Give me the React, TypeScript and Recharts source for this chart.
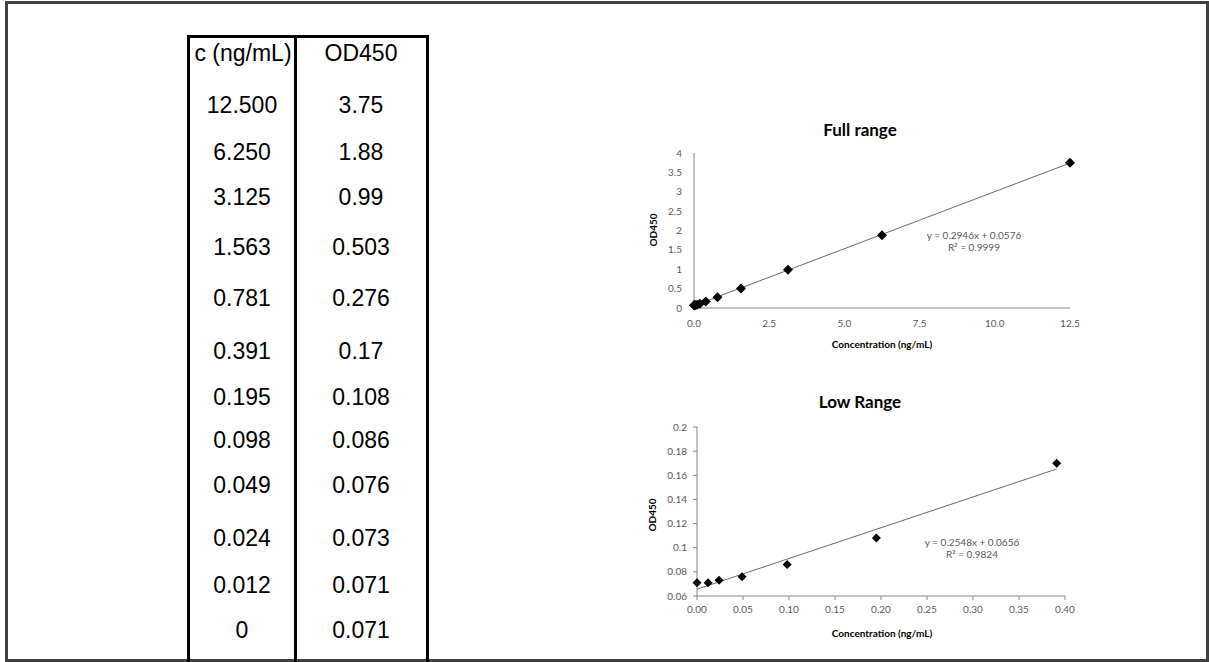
import React from "react";
import { ScatterChart, Scatter, XAxis, YAxis, ReferenceLine } from "recharts";

// table columns, as printed
const concLabels = ["12.500", "6.250", "3.125", "1.563", "0.781", "0.391", "0.195", "0.098", "0.049", "0.024", "0.012", "0"];
const odLabels = ["3.75", "1.88", "0.99", "0.503", "0.276", "0.17", "0.108", "0.086", "0.076", "0.073", "0.071", "0.071"];

// trendlines as reported on the charts
const fullSlope = 0.2946;
const fullIntercept = 0.0576;
const lowSlope = 0.2548;
const lowIntercept = 0.0656;

const fullXTicks = [0, 2.5, 5, 7.5, 10, 12.5];
const fullYTicks = [0, 0.5, 1, 1.5, 2, 2.5, 3, 3.5, 4];
const lowXTicks = [0, 0.05, 0.1, 0.15, 0.2, 0.25, 0.3, 0.35, 0.4];
const lowYTicks = [0.06, 0.08, 0.1, 0.12, 0.14, 0.16, 0.18, 0.2];
const lowMaxConc = 0.391;

const points = concLabels.map((c, i) => ({ x: Number(c), y: Number(odLabels[i]) }));
const lowPoints = points.filter((p) => p.x <= lowMaxConc);

// vertical centres of the table rows (header first)
const rowCentres = [53, 105, 152, 197, 247, 298, 351, 397, 440, 485, 538, 585, 630];

const TICK = { fontSize: 10, fill: "#595959", fontFamily: "Lato" };
const AXIS = { stroke: "#868686" };

const diamond = (r: number) => (props: any) => {
  const { cx, cy } = props;
  return <polygon points={`${cx},${cy - r} ${cx + r},${cy} ${cx},${cy + r} ${cx - r},${cy}`} fill="#000" />;
};

function Txt({ x, y, children, style }: { x: number; y: number; children: React.ReactNode; style?: React.CSSProperties }) {
  return (
    <div style={{ position: "absolute", left: x, top: y, transform: "translate(-50%, -50%)", whiteSpace: "nowrap", lineHeight: 1, ...style }}>
      {children}
    </div>
  );
}

const tableFont: React.CSSProperties = { fontFamily: "'Liberation Sans', Arial, sans-serif", fontSize: 23, color: "#000" };
const titleFont: React.CSSProperties = { fontFamily: "Lato", fontWeight: 700, fontSize: 17, color: "#000" };
const axisTitleFont: React.CSSProperties = { fontFamily: "Lato", fontWeight: 700, fontSize: 10, color: "#000" };
const eqFont: React.CSSProperties = { fontFamily: "Lato", fontSize: 10, color: "#595959", textAlign: "center", lineHeight: "12px" };

export default function App() {
  const vline = (x: number) => (
    <div style={{ position: "absolute", left: x, top: 35, width: 3, height: 627, background: "#000" }} />
  );
  return (
    <div style={{ position: "absolute", left: 0, top: 0, width: 1209, height: 662, background: "#fff", overflow: "hidden" }}>
      <div style={{ position: "absolute", left: 5, top: 1, width: 1204, height: 661, border: "3px solid #404040", boxSizing: "border-box" }} />

      {/* table */}
      <div style={{ position: "absolute", left: 187, top: 35, width: 242, height: 3, background: "#000" }} />
      {vline(187)}
      {vline(294)}
      {vline(426)}
      <Txt x={243} y={rowCentres[0]} style={tableFont}>c (ng/mL)</Txt>
      <Txt x={361} y={rowCentres[0]} style={tableFont}>OD450</Txt>
      {concLabels.map((c, i) => (
        <React.Fragment key={i}>
          <Txt x={242} y={rowCentres[i + 1]} style={tableFont}>{c}</Txt>
          <Txt x={361} y={rowCentres[i + 1]} style={tableFont}>{odLabels[i]}</Txt>
        </React.Fragment>
      ))}

      {/* full range */}
      <Txt x={860} y={129} style={titleFont}>Full range</Txt>
      <div style={{ position: "absolute", left: 590, top: 110 }}>
        <ScatterChart width={500} height={250} margin={{ top: 43, right: 20, bottom: 7, left: 0 }}>
          <XAxis type="number" dataKey="x" domain={[0, 12.5]} ticks={fullXTicks} tickFormatter={(v: number) => v.toFixed(1)}
            axisLine={AXIS} tickLine={false} tickSize={0} tickMargin={12} height={45} tick={TICK} interval={0} />
          <YAxis type="number" dataKey="y" domain={[0, 4]} ticks={fullYTicks} axisLine={AXIS} tickLine={false}
            tickSize={0} tickMargin={12} width={104} tick={TICK} interval={0} />
          <ReferenceLine segment={[{ x: 0, y: fullIntercept }, { x: 12.5, y: fullSlope * 12.5 + fullIntercept }]} stroke="#6a6a6a" strokeWidth={1} />
          <Scatter data={points} shape={diamond(5)} isAnimationActive={false} />
        </ScatterChart>
      </div>
      <Txt x={653} y={230} style={{ ...axisTitleFont, transform: "translate(-50%, -50%) rotate(-90deg)" }}>OD450</Txt>
      <Txt x={882} y={344} style={axisTitleFont}>Concentration (ng/mL)</Txt>
      <Txt x={974} y={241} style={eqFont}>
        y = 0.2946x + 0.0576<br />R² = 0.9999
      </Txt>

      {/* low range */}
      <Txt x={860} y={401} style={titleFont}>Low Range</Txt>
      <div style={{ position: "absolute", left: 590, top: 380 }}>
        <ScatterChart width={500} height={250} margin={{ top: 47, right: 25, bottom: 4, left: 0 }}>
          <XAxis type="number" dataKey="x" domain={[0, 0.4]} ticks={lowXTicks} tickFormatter={(v: number) => v.toFixed(2)}
            axisLine={AXIS} tickLine={AXIS} tickSize={4} tickMargin={6} height={30} tick={TICK} interval={0} />
          <YAxis type="number" dataKey="y" domain={[0.06, 0.2]} ticks={lowYTicks} axisLine={AXIS} tickLine={AXIS}
            tickSize={4} tickMargin={6} width={107} tick={TICK} interval={0} />
          <ReferenceLine segment={[{ x: 0, y: lowIntercept }, { x: lowMaxConc, y: lowSlope * lowMaxConc + lowIntercept }]} stroke="#6a6a6a" strokeWidth={1} />
          <Scatter data={lowPoints} shape={diamond(4.5)} isAnimationActive={false} />
        </ScatterChart>
      </div>
      <Txt x={652} y={515} style={{ ...axisTitleFont, transform: "translate(-50%, -50%) rotate(-90deg)" }}>OD450</Txt>
      <Txt x={882} y={633} style={axisTitleFont}>Concentration (ng/mL)</Txt>
      <Txt x={972} y={548} style={eqFont}>
        y = 0.2548x + 0.0656<br />R² = 0.9824
      </Txt>
    </div>
  );
}
